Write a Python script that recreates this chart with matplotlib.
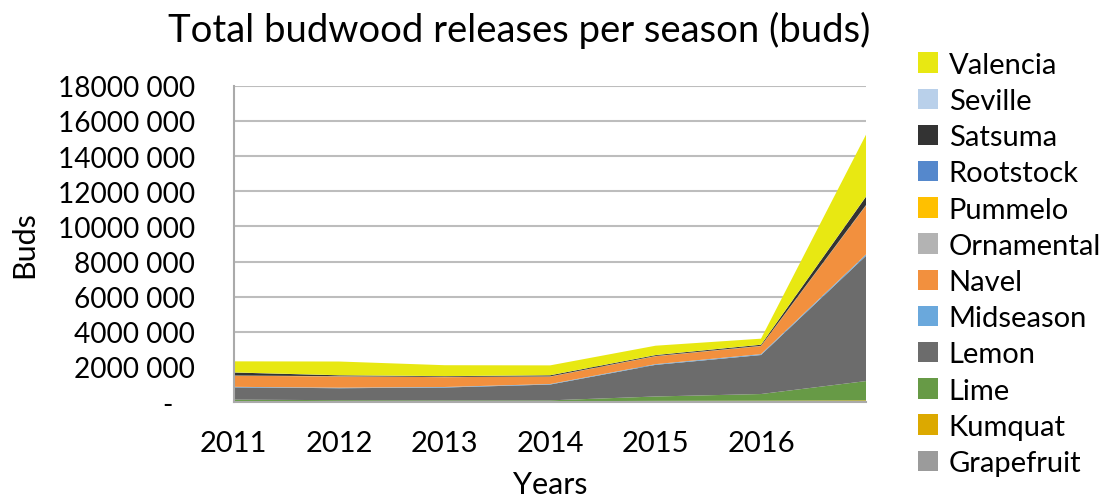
import matplotlib.pyplot as plt
from matplotlib.ticker import FuncFormatter, MultipleLocator
from matplotlib.patches import Patch

plt.rcParams['font.family'] = ['Lato', 'DejaVu Sans']

# Seasons (the last point has no label on the original axis)
years = ['2011', '2012', '2013', '2014', '2015', '2016', '']

# Buds released per season, in stacking order (bottom first)
grapefruit = [40000, 30000, 30000, 30000, 30000, 30000, 40000]
kumquat = [20000, 20000, 20000, 20000, 40000, 50000, 60000]
lime = [80000, 60000, 50000, 50000, 250000, 380000, 1100000]
lemon = [700000, 680000, 730000, 900000, 1800000, 2220000, 7150000]
midseason = [30000, 30000, 30000, 30000, 40000, 50000, 80000]
navel = [630000, 640000, 560000, 420000, 450000, 460000, 2790000]
ornamental = [5000, 5000, 5000, 5000, 5000, 5000, 10000]
pummelo = [5000, 5000, 5000, 5000, 5000, 5000, 10000]
rootstock = [5000, 5000, 5000, 5000, 5000, 5000, 10000]
satsuma = [170000, 50000, 40000, 60000, 50000, 60000, 480000]
seville = [5000, 5000, 5000, 5000, 5000, 5000, 10000]
valencia = [630000, 780000, 620000, 560000, 530000, 340000, 3530000]

names = ['Grapefruit', 'Kumquat', 'Lime', 'Lemon', 'Midseason', 'Navel',
         'Ornamental', 'Pummelo', 'Rootstock', 'Satsuma', 'Seville', 'Valencia']
series = [grapefruit, kumquat, lime, lemon, midseason, navel,
          ornamental, pummelo, rootstock, satsuma, seville, valencia]
colors = ['#9b9b9b', '#dca900', '#679a46', '#6c6c6c', '#6aa8dc', '#f2903e',
          '#b3b3b3', '#ffc000', '#5588cc', '#333333', '#b9d0ea', '#e8e812']

fig = plt.figure(figsize=(11.08, 5.02), dpi=100)
ax = fig.add_axes([0.211, 0.197, 0.571, 0.630])

x = list(range(len(years)))
ax.stackplot(x, *series, colors=colors, linewidth=0, zorder=2)

ax.set_xlim(0, len(years) - 1)
ax.set_ylim(0, 18000000)
ax.yaxis.set_major_locator(MultipleLocator(2000000))
ax.yaxis.set_major_formatter(FuncFormatter(
    lambda v, p: '-   ' if v == 0 else f"{int(v / 1000)} 000"))
ax.set_xticks(x[:-1])
ax.set_xticklabels(years[:-1])

ax.grid(axis='y', color='#bdbdbd', linewidth=1.5, zorder=1)
for side in ['top', 'right']:
    ax.spines[side].set_visible(False)
for side in ['left', 'bottom']:
    ax.spines[side].set_color('#aaaaaa')
    ax.spines[side].set_linewidth(1.5)
ax.tick_params(axis='both', length=0)
ax.tick_params(axis='y', pad=28, labelsize=20.2)
ax.tick_params(axis='x', pad=20, labelsize=21)

fig.text(0.469, 0.94, "Total budwood releases per season (buds)",
         fontsize=27.5, ha='center', va='center')
ax.set_ylabel("Buds", fontsize=22, labelpad=14)
ax.set_xlabel("Years", fontsize=22, labelpad=10)

handles = [Patch(facecolor=c, label=n) for n, c in zip(names, colors)][::-1]
fig.legend(handles=handles, loc='upper left', bbox_to_anchor=(0.818, 0.918),
           frameon=False, fontsize=21, handlelength=0.7, handleheight=0.7,
           handletextpad=0.35, labelspacing=0.35, borderaxespad=0)

fig.savefig('out.png', dpi=100)
